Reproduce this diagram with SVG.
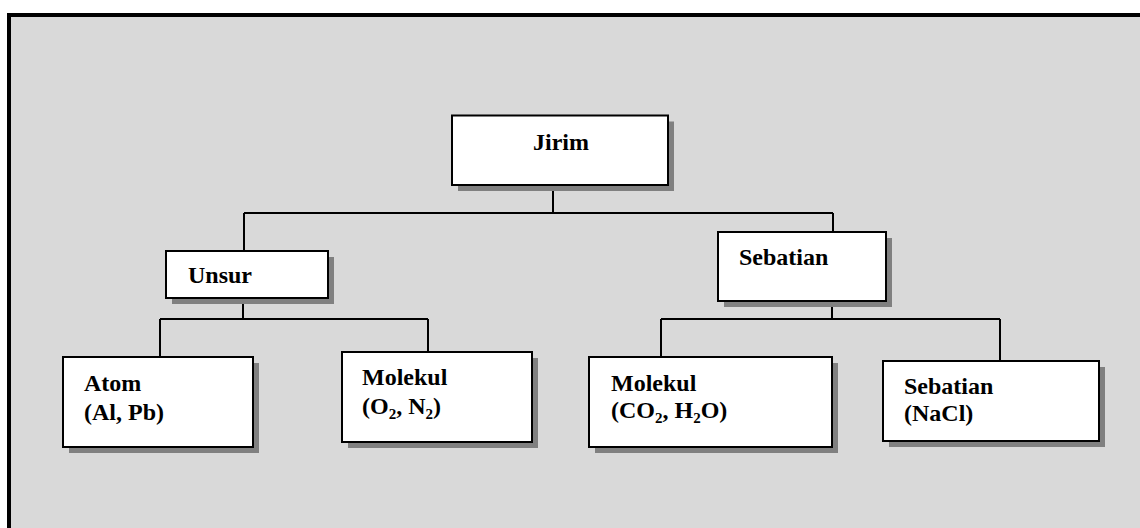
<svg xmlns="http://www.w3.org/2000/svg" width="1140" height="528" viewBox="0 0 1140 528">
<style>
.bg{fill:#d9d9d9;stroke:#000;stroke-width:4}
.sh{fill:#808080}
.bx{fill:#fff;stroke:#000;stroke-width:2}
.ln{stroke:#000;stroke-width:2;fill:none}
.t{font-family:'Liberation Serif','Times New Roman','DejaVu Serif',serif;font-weight:bold;font-size:24px;fill:#000}
.sub{font-size:15px}
</style>
<rect class="bg" x="9" y="15" width="1140" height="520"/>
<g id="connectors">
<path class="ln" d="M553 185V213M244 213H833M244 213V251M833 213V232"/>
<path class="ln" d="M243 298V319M160 319H428M160 319V357M428 319V352"/>
<path class="ln" d="M832 301V319M661 319H1000M661 319V357M1000 319V361"/>
</g>
<g class="t" font-family="Liberation Serif, serif" font-weight="bold">
<g id="jirim">
<rect class="sh" x="458" y="121.5" width="216" height="69.5"/>
<rect class="bx" x="452" y="115.5" width="216" height="69.5"/>
<text x="533" y="150">Jirim</text>
</g>
<g id="unsur">
<rect class="sh" x="172" y="257" width="162" height="47"/>
<rect class="bx" x="166" y="251" width="162" height="47"/>
<text x="188" y="283">Unsur</text>
</g>
<g id="sebatian">
<rect class="sh" x="724" y="238" width="168" height="69"/>
<rect class="bx" x="718" y="232" width="168" height="69"/>
<text x="739" y="265">Sebatian</text>
</g>
<g id="atom">
<rect class="sh" x="69" y="363" width="190" height="90"/>
<rect class="bx" x="63" y="357" width="190" height="90"/>
<text x="84" y="391">Atom</text>
<text x="84" y="420">(Al, Pb)</text>
</g>
<g id="molekul1">
<rect class="sh" x="348" y="358" width="190" height="90"/>
<rect class="bx" x="342" y="352" width="190" height="90"/>
<text x="362" y="385">Molekul</text>
<text x="362" y="414">(O<tspan class="sub" dy="5">2</tspan><tspan dy="-5">, N</tspan><tspan class="sub" dy="5">2</tspan><tspan dy="-5">)</tspan></text>
</g>
<g id="molekul2">
<rect class="sh" x="595" y="363" width="243" height="90"/>
<rect class="bx" x="589" y="357" width="243" height="90"/>
<text x="611" y="391">Molekul</text>
<text x="611" y="418">(CO<tspan class="sub" dy="5">2</tspan><tspan dy="-5">, H</tspan><tspan class="sub" dy="5">2</tspan><tspan dy="-5">O)</tspan></text>
</g>
<g id="sebatian2">
<rect class="sh" x="889" y="367" width="216" height="80"/>
<rect class="bx" x="883" y="361" width="216" height="80"/>
<text x="904" y="394">Sebatian</text>
<text x="904" y="421">(NaCl)</text>
</g>
</g>
</svg>
